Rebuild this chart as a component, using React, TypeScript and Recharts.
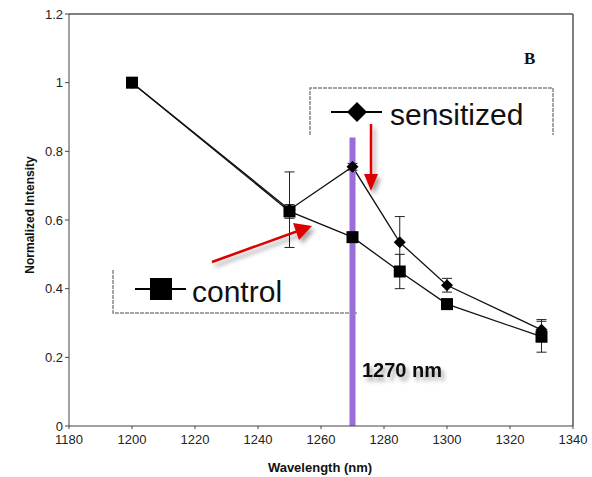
import { ComposedChart, Line, XAxis, YAxis, ErrorBar, ReferenceLine } from 'recharts';

const wavelengths = [1200, 1250, 1270, 1285, 1300, 1330];
const control = [1.0, 0.625, 0.55, 0.45, 0.355, 0.26];
const controlErr = [0, 0.02, 0.012, 0.05, 0.012, 0.045];
const sensitized = [1.0, 0.63, 0.755, 0.535, 0.41, 0.28];
const sensitizedErr = [0, 0.11, 0.01, 0.075, 0.02, 0.03];
const xTicks = [1180, 1200, 1220, 1240, 1260, 1280, 1300, 1320, 1340];
const yTicks = [0, 0.2, 0.4, 0.6, 0.8, 1, 1.2];

const data = wavelengths.map((w, i) => ({
    wl: w,
    control: control[i],
    controlErr: controlErr[i],
    sensitized: sensitized[i],
    sensitizedErr: sensitizedErr[i],
}));

const font = '"Liberation Sans", Arial, sans-serif';

const Square = (props: any) => {
    const { cx, cy } = props;
    if (cx == null || cy == null) return null;
    return <rect x={cx - 6} y={cy - 6} width={12} height={12} fill="#000" />;
};

const Diamond = (props: any) => {
    const { cx, cy } = props;
    if (cx == null || cy == null) return null;
    const s = 6;
    return <polygon points={`${cx},${cy - s} ${cx + s},${cy} ${cx},${cy + s} ${cx - s},${cy}`} fill="#000" />;
};

const App = () => {
    return (
        <div style={{ position: 'absolute', left: 0, top: 0, width: 592, height: 477, background: '#fff', fontFamily: font }}>
            <ComposedChart width={592} height={477} data={data} margin={{ top: 14, right: 19, left: 0, bottom: 0 }}>
                <XAxis
                    dataKey="wl"
                    type="number"
                    domain={[1180, 1340]}
                    ticks={xTicks}
                    height={51}
                    tickSize={3}
                    stroke="#444"
                    tick={{ fill: '#222', fontSize: 13, fontFamily: font }}
                    tickMargin={6}
                />
                <YAxis
                    type="number"
                    domain={[0, 1.2]}
                    ticks={yTicks}
                    width={69}
                    tickSize={4}
                    stroke="#444"
                    tick={{ fill: '#222', fontSize: 13, fontFamily: font }}
                />
                {/* plot frame: top and right edges */}
                <ReferenceLine y={1.2} stroke="#555" strokeWidth={1.5} />
                <ReferenceLine x={1340} stroke="#555" strokeWidth={1.5} />
                <Line
                    dataKey="sensitized"
                    stroke="#111"
                    strokeWidth={1.3}
                    dot={<Diamond />}
                    activeDot={false}
                    isAnimationActive={false}
                >
                    <ErrorBar dataKey="sensitizedErr" width={5} stroke="#222" strokeWidth={1} direction="y" />
                </Line>
                <Line
                    dataKey="control"
                    stroke="#111"
                    strokeWidth={1.3}
                    dot={<Square />}
                    activeDot={false}
                    isAnimationActive={false}
                >
                    <ErrorBar dataKey="controlErr" width={5} stroke="#222" strokeWidth={1} direction="y" />
                </Line>
                <ReferenceLine
                    segment={[{ x: 1270, y: 0 }, { x: 1270, y: 0.84 }]}
                    stroke="#9b6dd8"
                    strokeWidth={6}
                />
            </ComposedChart>
            <svg width={592} height={477} style={{ position: 'absolute', left: 0, top: 0, pointerEvents: 'none' }}>
                <defs>
                    <filter id="sh" x="-20%" y="-20%" width="150%" height="160%">
                        <feDropShadow dx="3" dy="4" stdDeviation="2" floodColor="#000" floodOpacity="0.35" />
                    </filter>
                </defs>
                {/* sensitized legend */}
                <path d="M310 135 V88 H553 V135" fill="none" stroke="#888" strokeWidth={1.5} strokeDasharray="4 1" />
                <line x1={331} y1={112} x2={382} y2={112} stroke="#000" strokeWidth={2} />
                <polygon points="357,102 367,112 357,122 347,112" fill="#000" />
                <text x={390} y={125} fontSize={30} fill="#111" fontFamily={font}>sensitized</text>
                {/* control legend */}
                <path d="M113 270 V313 H357" fill="none" stroke="#888" strokeWidth={1.5} strokeDasharray="4 1" />
                <line x1={135} y1={289} x2={186} y2={289} stroke="#000" strokeWidth={2} />
                <rect x={150} y={278} width={22} height={22} fill="#000" />
                <text x={192} y={302} fontSize={30} fill="#111" fontFamily={font}>control</text>
                {/* arrows */}
                <g filter="url(#sh)">
                    <line x1={212} y1={262} x2={298} y2={231} stroke="#d00" strokeWidth={2.5} />
                    <polygon points="312,226 293,223 299,240" fill="#d00" />
                    <line x1={371} y1={124} x2={371} y2={176} stroke="#d00" strokeWidth={2.5} />
                    <polygon points="371,191 364,174 378,174" fill="#d00" />
                </g>
                <text x={362} y={377} fontSize={20} fontWeight="bold" fill="#111" fontFamily={font} filter="url(#sh)">1270 nm</text>
                <text x={524} y={64} fontSize={17} fontWeight="bold" fill="#111" fontFamily='"Liberation Serif", "Times New Roman", serif'>B</text>
                <text x={320} y={472} fontSize={13} fontWeight="bold" fill="#111" textAnchor="middle" fontFamily={font}>Wavelength (nm)</text>
                <text x={0} y={0} fontSize={12} fontWeight="bold" fill="#111" textAnchor="middle" fontFamily={font} transform="translate(34 215) rotate(-90)">Normalized Intensity</text>
            </svg>
        </div>
    );
};

export default App;
